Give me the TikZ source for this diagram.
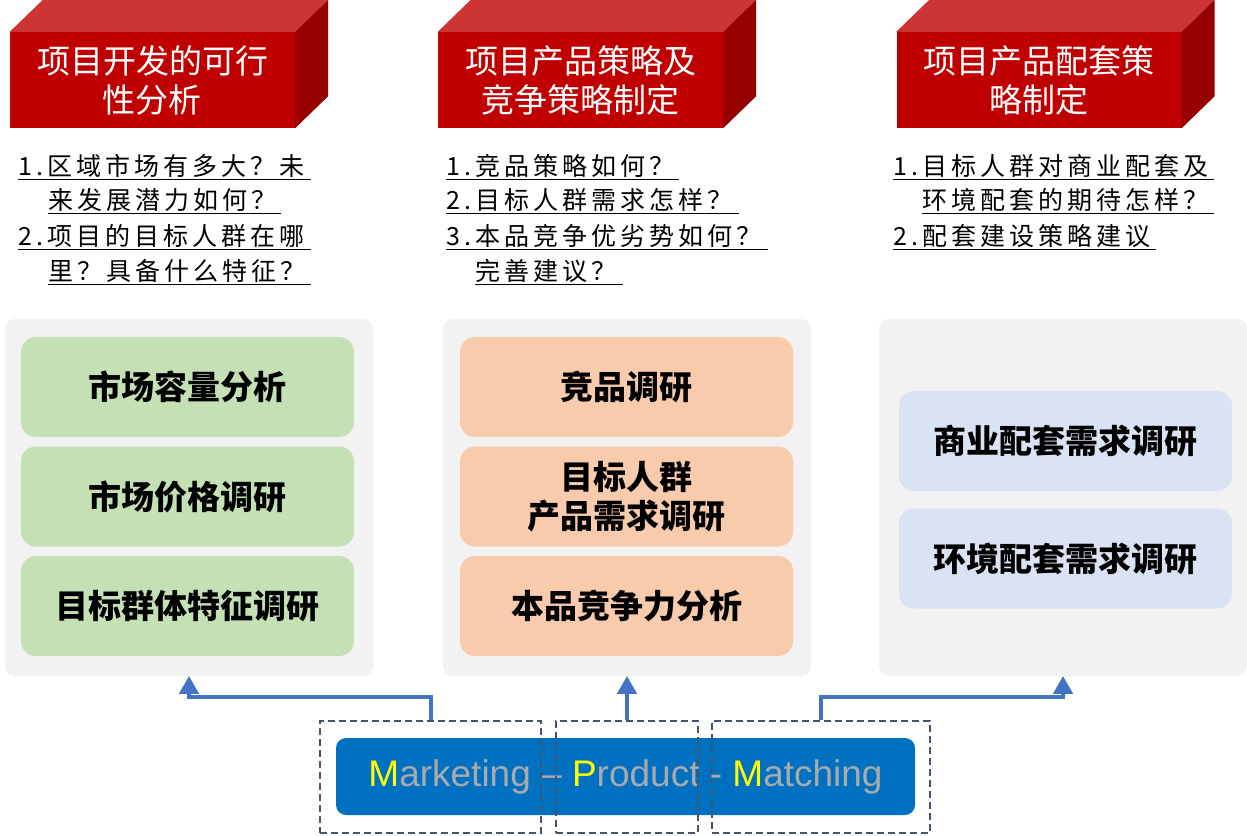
\documentclass[tikz,border=0pt]{standalone}
\usepackage{fontspec}
\setmainfont{Liberation Sans}
\newfontfamily\cjk{Noto Sans CJK SC}
\newfontfamily\cjkq{Noto Sans CJK SC}[LetterSpace=16]
\usetikzlibrary{arrows}
\definecolor{frontred}{RGB}{192,0,0}
\definecolor{topred}{RGB}{205,52,52}
\definecolor{sidered}{RGB}{150,0,0}
\definecolor{panelgray}{RGB}{242,242,242}
\definecolor{greenbox}{RGB}{197,224,180}
\definecolor{orangebox}{RGB}{248,203,173}
\definecolor{bluebox}{RGB}{218,227,243}
\definecolor{flowblue}{RGB}{68,114,196}
\definecolor{barblue}{RGB}{0,112,192}
\definecolor{dashblue}{RGB}{68,84,106}
\definecolor{lettergray}{RGB}{170,170,170}
\definecolor{keyyellow}{RGB}{255,255,0}
\newcommand{\key}[2]{\textcolor{keyyellow}{#1}\textcolor{lettergray}{#2}}

\begin{document}
\begin{tikzpicture}[x=1pt,y=-1pt,
	title/.style={fill=frontred,minimum width=285,minimum height=96,inner sep=0,text=white,align=center,font=\cjk\fontsize{33}{39}\selectfont},
	qline/.style={anchor=base west,inner sep=0,text depth=4pt,text width=#1,align=left,font=\cjkq\fontsize{25}{25}\selectfont,
		append after command={(\tikzlastnode.south west) edge[line width=1.4] (\tikzlastnode.south east)}},
	panel/.style={fill=panelgray,rounded corners=10,minimum width=368,minimum height=357,inner sep=0},
	item/.style={fill=#1,rounded corners=15,minimum width=333,minimum height=100,inner sep=0,align=center,font=\cjk\bfseries\fontsize{33}{39}\selectfont},
	word/.style={draw=dashblue,dashed,dash pattern=on 7pt off 4pt,line width=1.8,minimum height=112,minimum width=#1,inner sep=0},
	flow/.style={draw=flowblue,line width=4,-triangle 60}]
	\useasboundingbox (0,0) rectangle (1247,835);
	\node[title] (t1) at (152.5,80) {项目开发的可行\\性分析};
	\node[title] (t2) at (580.5,80) {项目产品策略及\\竞争策略制定};
	\node[title] (t3) at (1039,80) {项目产品配套策\\略制定};
	\foreach \t in {t1,t2,t3} {
		\fill[topred] (\t.north west) -- ++(33,-32) -- ([shift={(33,-32)}]\t.north east) -- (\t.north east) -- cycle;
		\fill[sidered] (\t.north east) -- ([shift={(33,-32)}]\t.north east) -- ([shift={(33,-32)}]\t.south east) -- (\t.south east) -- cycle;
	}
	\node[qline=293] (q11) at (18,175) {1.区域市场有多大？未};
	\node[qline=233] (q12) at (48,209) {来发展潜力如何？};
	\node[qline=293] (q13) at (18,245) {2.项目的目标人群在哪};
	\node[qline=263] (q14) at (48,280) {里？具备什么特征？};
	\node[qline=233] (q21) at (446,175) {1.竞品策略如何？};
	\node[qline=293] (q22) at (446,209) {2.目标人群需求怎样？};
	\node[qline=322] (q23) at (446,245) {3.本品竞争优劣势如何？};
	\node[qline=148] (q24) at (475,280) {完善建议？};
	\node[qline=321] (q31) at (893,175) {1.目标人群对商业配套及};
	\node[qline=292] (q32) at (922,209) {环境配套的期待怎样？};
	\node[qline=263] (q33) at (893,245) {2.配套建设策略建议};
	\node[panel] (p1) at (189,497.5) {};
	\node[panel] (p2) at (627,497.5) {};
	\node[panel] (p3) at (1063,497.5) {};
	\node[item=greenbox] (g1) at (187.5,387) {市场容量分析};
	\node[item=greenbox] (g2) at (187.5,496.5) {市场价格调研};
	\node[item=greenbox] (g3) at (187.5,606) {目标群体特征调研};
	\node[item=orangebox] (o1) at (626.5,387) {竞品调研};
	\node[item=orangebox] (o2) at (626.5,496.5) {目标人群\\产品需求调研};
	\node[item=orangebox] (o3) at (626.5,606) {本品竞争力分析};
	\node[item=bluebox] (b1) at (1065.5,441) {商业配套需求调研};
	\node[item=bluebox] (b2) at (1065.5,558.5) {环境配套需求调研};
	\node[fill=barblue,rounded corners=10,minimum width=579,minimum height=77,inner sep=0,font=\fontsize{37}{37}\selectfont] (bar) at (625.5,776.5)
		{\key{M}{arketing} \textcolor{lettergray}{–} \key{P}{roduct} \textcolor{lettergray}{-} \key{M}{atching}};
	\node[word=221] (mk) at (430.5,777) {};
	\node[word=142] (pd) at (627,777) {};
	\node[word=218] (mt) at (821,777) {};
	\draw[flow] (mk.north) -- ++(0,-23) -| (p1.south);
	\draw[flow] (pd.north) -- (p2.south);
	\draw[flow] (mt.north) -- ++(0,-23) -| (p3.south);
\end{tikzpicture}
\end{document}
